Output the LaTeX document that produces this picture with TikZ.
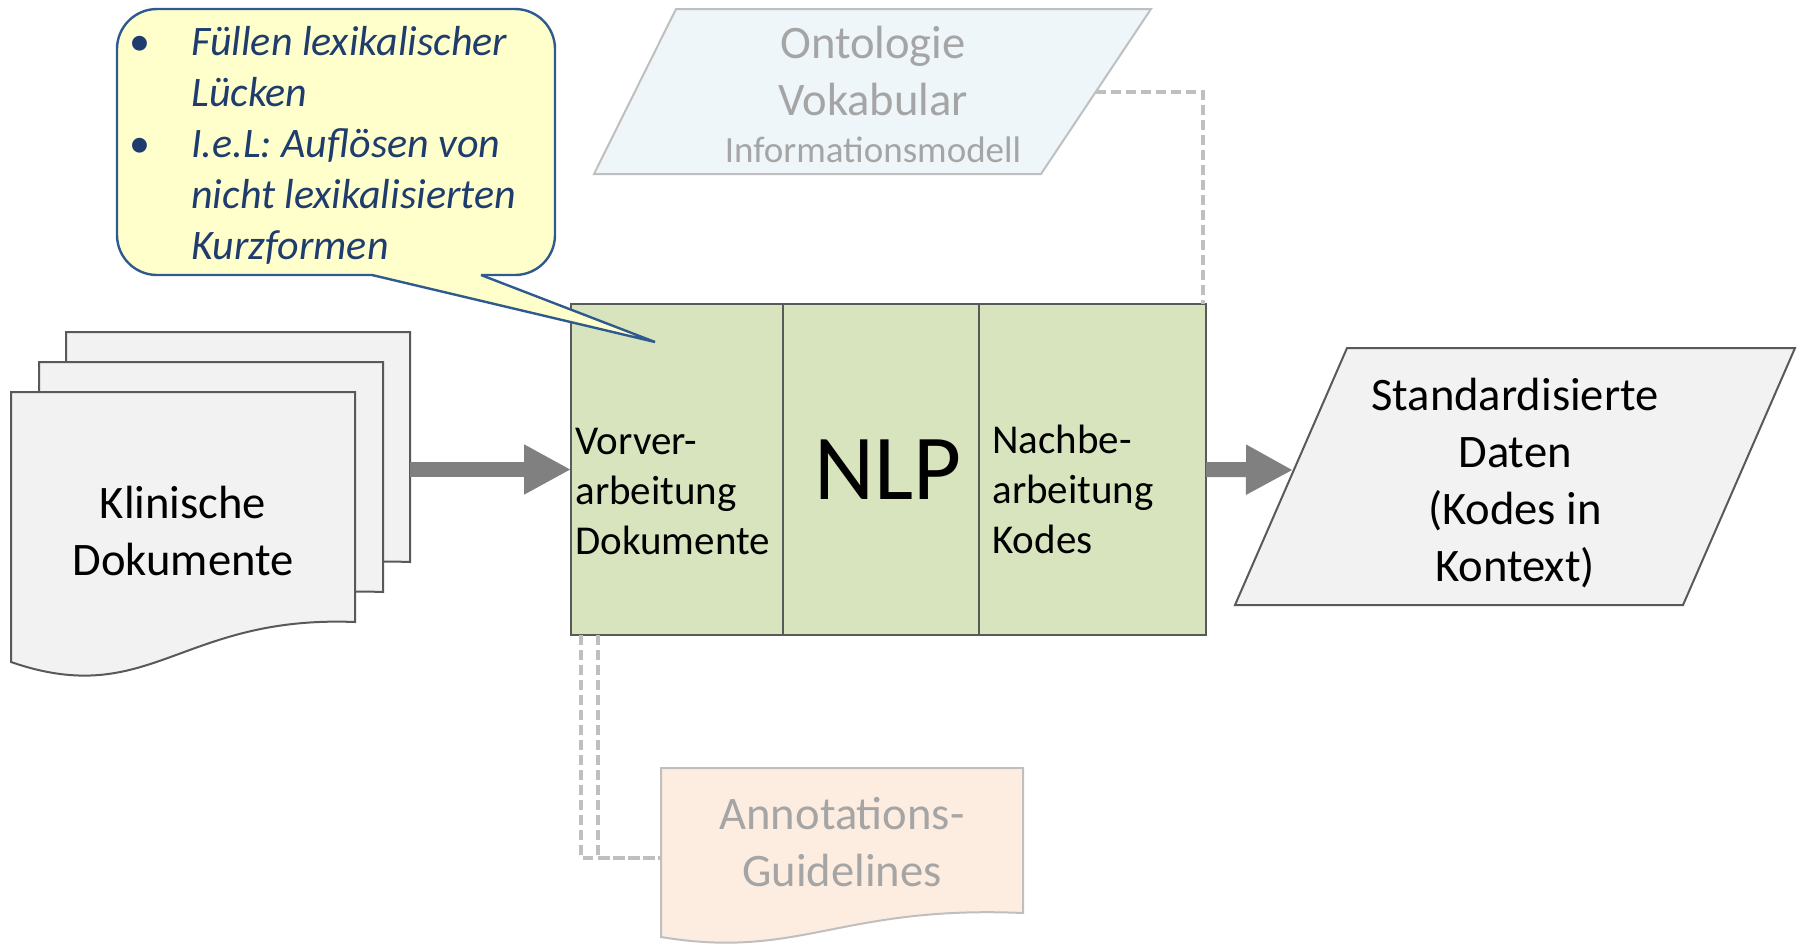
\documentclass[tikz,border=0pt]{standalone}
\usepackage{fontspec}
\setmainfont{Carlito}
\usetikzlibrary{arrows.meta,positioning}
\definecolor{sheetfill}{HTML}{F2F2F2}
\definecolor{framegray}{HTML}{595959}
\definecolor{nlpgreen}{HTML}{D7E4BD}
\definecolor{ontofill}{HTML}{EEF6F9}
\definecolor{guidefill}{HTML}{FDEDE1}
\definecolor{lightframe}{HTML}{BFBFBF}
\definecolor{fadedtext}{HTML}{A5A5A5}
\definecolor{notefill}{HTML}{FFFFCC}
\definecolor{noteframe}{HTML}{2F5A8F}
\definecolor{notetext}{HTML}{1F3C6E}
\definecolor{arrowgray}{HTML}{808080}
\definecolor{dashgray}{HTML}{BFBFBF}
\begin{document}
\begin{tikzpicture}[x=0.5pt, y=-0.5pt,
    sheet/.style={fill=sheetfill, draw=framegray, line width=1pt},
    faded/.style={fill=#1, draw=lightframe, line width=1pt},
    stage/.style={fill=nlpgreen, draw=framegray, line width=1pt, minimum height=165.5pt, inner sep=0pt, outer sep=0pt},
    bigarrow/.style={draw=arrowgray, line width=7.5pt, -{Triangle[length=23.5pt, width=23.5pt]}},
    reflink/.style={draw=dashgray, line width=2.2pt, dash pattern=on 5pt off 2.5pt},
    bodytext/.style={font=\fontsize{23.3}{28.5}\selectfont, align=center, inner sep=0pt},
    stagetext/.style={font=\fontsize{20.5}{25}\selectfont, align=left, inner sep=0pt}]

\useasboundingbox (0,0) rectangle (1797,949);

% stack of clinical documents
\foreach \dx/\dy in {55/-60, 28/-30, 0/0}
  \filldraw[sheet, shift={(\dx,\dy)}] (11,392) -- (355,392) -- (355,622)
    .. controls (180,615) and (150,710) .. (11,662) -- cycle;
\node[bodytext] (docs) at (183,531) {Klinische\\Dokumente};
\coordinate (docsout) at (410,469.5);

% ontology / vocabulary
\filldraw[faded=ontofill] (676,9) -- (1151,9) -- (1041,174) -- (594,174) -- cycle;
\node[bodytext, text=fadedtext] (onto) at (873,70.5) {Ontologie\\Vokabular};
\node[inner sep=0pt, text=fadedtext, font=\fontsize{18.5}{22}\selectfont] (infomodel) at (873,150) {Informationsmodell};
\coordinate (ontoport) at (1096,92);

% annotation guidelines
\filldraw[faded=guidefill] (661,768) -- (1023,768) -- (1023,913)
    .. controls (840,905) and (800,960) .. (661,937) -- cycle;
\node[bodytext, text=fadedtext] (guides) at (842,842.5) {Annotations-\\Guidelines};
\coordinate (guideport) at (661,858);

% NLP pipeline
\node[stage, minimum width=106pt, anchor=north west] (prep) at (571,304) {};
\node[stage, minimum width=98pt, right=0pt of prep] (nlp) {};
\node[stage, minimum width=113.5pt, right=0pt of nlp] (post) {};
\node[stagetext, anchor=west] (preptext) at (575,491) {Vorver-\\arbeitung\\Dokumente};
\node[inner sep=0pt, font=\fontsize{46.5}{50}\selectfont] (nlptext) at (888,470) {NLP};
\node[stagetext, anchor=west] (posttext) at (992,489.5) {Nachbe-\\arbeitung\\Kodes};

% standardised output
\filldraw[sheet] (1347,348) -- (1795,348) -- (1683,605) -- (1235,605) -- cycle;
\node[bodytext] (result) at (1515,483.5) {Standardisierte\\Daten\\(Kodes in\\Kontext)};
\coordinate (resultin) at (1293,470);

% arrows and references
\draw[bigarrow] (docsout) -- (prep.west);
\draw[bigarrow] (post.east) -- (resultin);
\draw[reflink] (ontoport) -| ([xshift=-1.5pt]post.north east);
\draw[reflink] ([xshift=5pt]prep.south west) |- (guideport);
\draw[reflink] ([xshift=13.5pt]prep.south west) |- (guideport);

% note on preprocessing
\node[draw=noteframe, fill=notefill, line width=1.2pt, rounded corners=20pt, minimum width=219pt, minimum height=133pt,
  anchor=north west, inner sep=0pt, outer sep=0pt] (note) at (117,9) {};
\fill[notefill] (372,275) -- (655,342) -- (481,275) -- (481,270) -- (372,270) -- cycle;
\draw[noteframe, line width=1.2pt] (372,275) -- (655,342) -- (481,275);
\node[anchor=north west, inner sep=0pt, text=notetext, font=\fontsize{21}{25.5}\selectfont\itshape] (notetext) at (129,19)
  {\begin{tabular}{@{}p{31pt}@{}l@{}}
   \upshape\textbullet & Füllen lexikalischer\\
   & Lücken\\
   \upshape\textbullet & I.e.L: Auflösen von\\
   & nicht lexikalisierten\\
   & Kurzformen
   \end{tabular}};
\end{tikzpicture}
\end{document}
